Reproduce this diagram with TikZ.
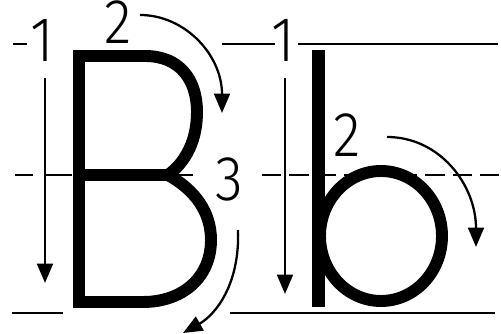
\documentclass[tikz,border=0pt]{standalone}
\usepackage{fontspec}
\setmainfont{Liberation Sans}
\newfontfamily\digitfont{Fira Sans}[UprightFont={* Light}]
\usepackage{graphicx}
\usepackage{tikz}
\usetikzlibrary{arrows.meta}
\newcommand{\narrowdigit}[1]{\scalebox{0.9}[1]{#1}}

\begin{document}
\begin{tikzpicture}[
    x=0.02cm, y=-0.02cm,
    guide/.style={line width=1.7pt},
    midguide/.style={line width=1.1pt},
    letter/.style={line width=6.8pt,line join=miter},
    stroke/.style={-{Triangle[length=11pt,width=9pt]},line width=1.3pt},
    num/.style={font=\digitfont\fontsize{36}{40}\selectfont,inner sep=0pt,anchor=base}
  ]
  \useasboundingbox (0,0) rectangle (501,334);
  % writing lines
  \draw[guide] (13,44) -- (27,44) (222,44) -- (275,44) (298,44) -- (498,44);
  \draw[guide] (12,313) -- (63,313) (230,313) -- (495,313);
  \draw[midguide] (15,175) -- (33,175) (45,175) -- (72,175) (168,175) -- (193,175);
  \draw[midguide,dash pattern=on 11pt off 4.5pt] (262,175) -- (500,175);

  % capital B
  \draw[letter] (168,175) .. controls (195,190) and (211,212) .. (211,240)
    .. controls (211,278) and (182,302) .. (143,302) -- (79,302) -- (79,56) -- (145,56)
    .. controls (180,56) and (197,80) .. (197,112) .. controls (197,140) and (186,162) .. (168,175);
  \draw[letter] (79,175) -- (170,175);

  % small b
  \draw[line width=7.4pt] (318.5,50) -- (318.5,307);
  \draw[letter] (381,236) ellipse [x radius=61, y radius=65];

  % stroke order
  \draw[stroke] (45,78) -- (45,283);
  \draw[stroke] (140,15) .. controls (185,15) and (222,55) .. (222,113);
  \draw[stroke] (238,230) .. controls (240,285) and (215,315) .. (183,333);
  \draw[stroke] (285,78) -- (285,294);
  \draw[stroke] (387,137) .. controls (440,137) and (476,185) .. (476,247);

  \node[num] (bigone) at (42,62) {\narrowdigit{1}};
  \node[num] (bigtwo) at (118,44) {\narrowdigit{2}};
  \node[num] (bigthree) at (229,201) {\narrowdigit{3}};
  \node[num] (smallone) at (283,62) {\narrowdigit{1}};
  \node[num] (smalltwo) at (347,157) {\narrowdigit{2}};
\end{tikzpicture}
\end{document}
